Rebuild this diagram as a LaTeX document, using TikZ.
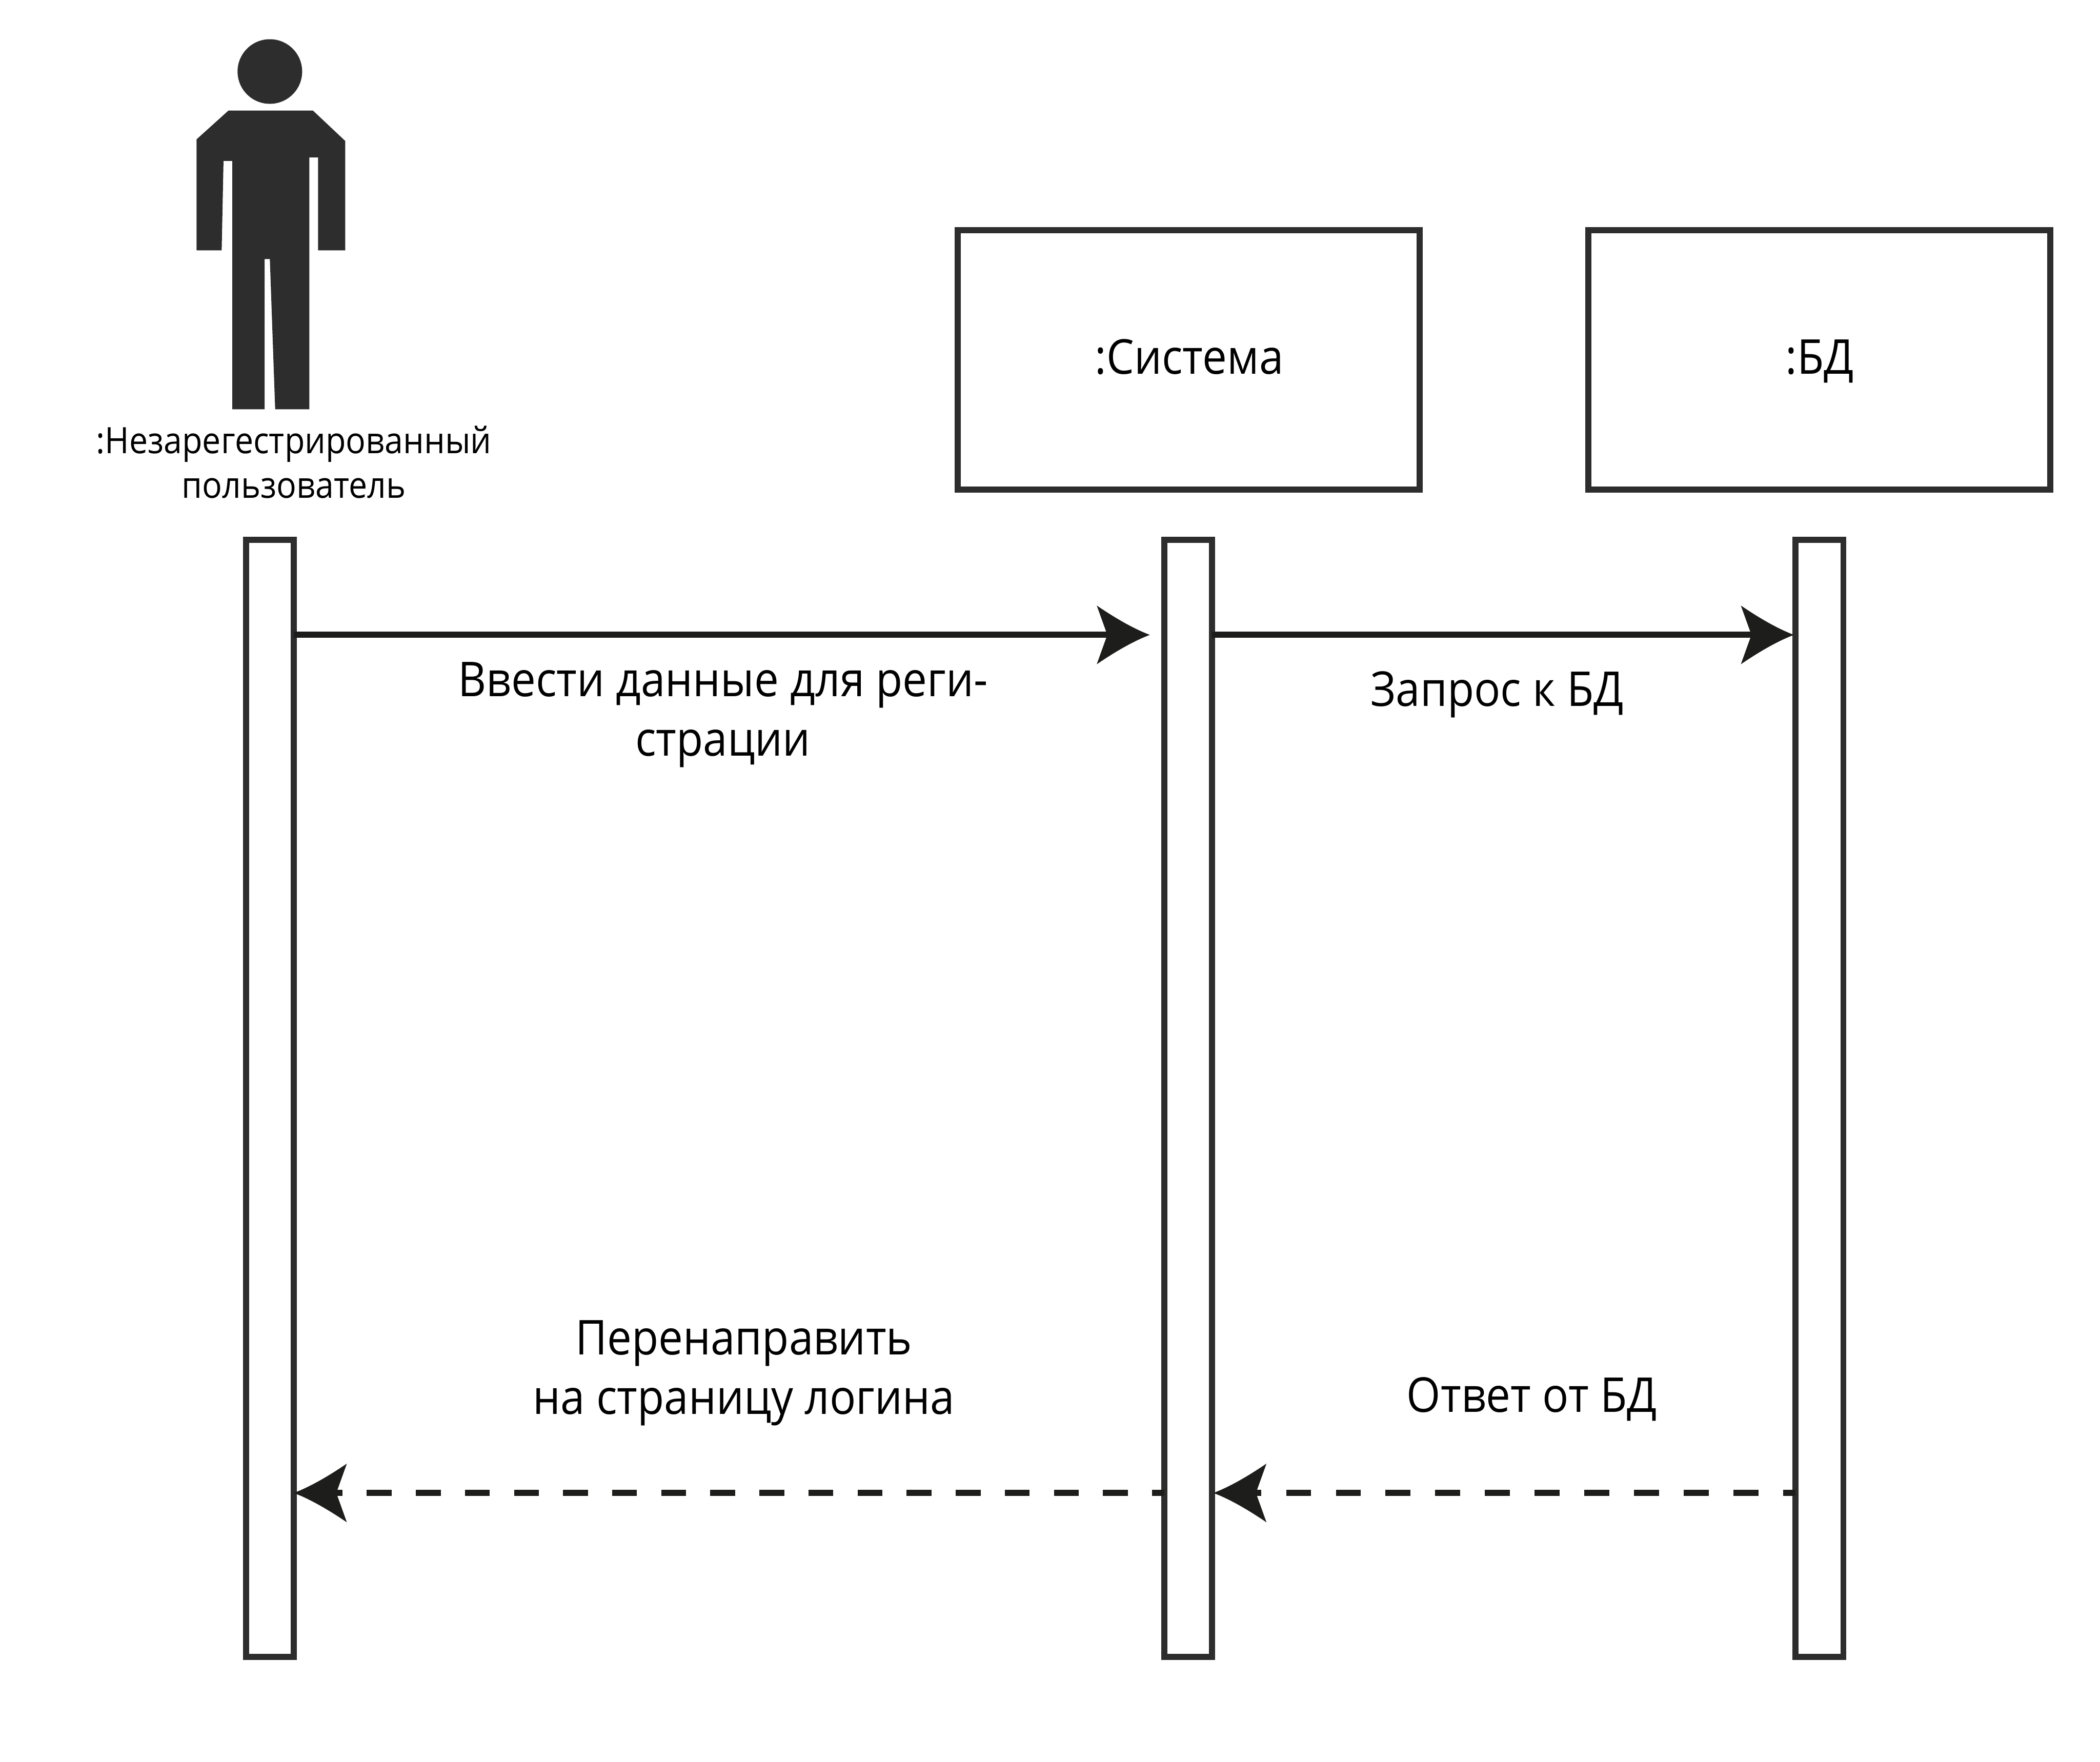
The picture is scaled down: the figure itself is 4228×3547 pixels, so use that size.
\documentclass[tikz,border=0pt]{standalone}
\usepackage{fontspec}
\setmainfont{Open Sans}[FakeStretch=0.91]
\definecolor{framecol}{HTML}{2D2D2D}
\definecolor{linecol}{HTML}{1D1D1B}
\pgfdeclarearrow{
  name=Swept,
  setup code={
    \pgfarrowssettipend{0pt}
    \pgfarrowssetlineend{-24.3pt}
    \pgfarrowssetbackend{-30.4pt}
    \pgfarrowssetvisualbackend{-24.3pt}
  },
  drawing code={
    \pgfpathmoveto{\pgfqpoint{0pt}{0pt}}
    \pgfpathquadraticcurveto{\pgfqpoint{-12.8pt}{4.84pt}}{\pgfqpoint{-30.36pt}{16.79pt}}
    \pgfpathlineto{\pgfqpoint{-24.33pt}{0pt}}
    \pgfpathlineto{\pgfqpoint{-30.36pt}{-16.79pt}}
    \pgfpathquadraticcurveto{\pgfqpoint{-12.8pt}{-4.84pt}}{\pgfqpoint{0pt}{0pt}}
    \pgfpathclose
    \pgfusepathqfill
  }
}
\tikzset{
  framebox/.style={draw=framecol,fill=white,line width=3.5pt,rectangle,inner sep=0pt,outer sep=0pt,minimum width=9.3cm,minimum height=5.225cm},
  lifebar/.style={draw=framecol,fill=white,line width=3.5pt,rectangle,inner sep=0pt,outer sep=0pt,minimum width=0.96cm,minimum height=22.48cm},
  msg/.style={draw=linecol,line width=3.5pt,-{Swept}},
  reply/.style={msg,dash pattern=on 14.23pt off 14.23pt,dash phase=7.11pt},
  replyleft/.style={msg,dash pattern=on 14.23pt off 13.87pt,dash phase=7.11pt},
  bigtext/.style={inner sep=0pt,anchor=base,align=center,text=black,font=\fontsize{27.5pt}{34.1pt}\selectfont},
  smalltext/.style={inner sep=0pt,anchor=base,align=center,text=black,font=\fontsize{20.8pt}{25.6pt}\selectfont},
}
\begin{document}
\begin{tikzpicture}[x=0.01cm,y=-0.01cm]
\useasboundingbox (0,0) rectangle (4228,3547);
\fill[white] (0,0) rectangle (4228,3547);
% actor
\node[circle,fill=framecol,inner sep=0pt,outer sep=0pt,minimum size=1.30cm] (head) at (543.3,144) {};
\fill[framecol] (460,222.6) -- (630,222.6) -- (695,283.8) -- (695,504) -- (640.3,504) -- (640.3,317) -- (622.7,317) -- (622.7,824) -- (554,824) -- (543.3,521.7) -- (532.7,521.7) -- (532.7,824) -- (467.7,824) -- (467.7,324) -- (450,324) -- (446.3,504) -- (395.7,504) -- (395.7,280.6) -- cycle;
\node[smalltext] (actor) at (591.5,1002.7) {:Незарегестрированный\\пользователь};
% boxes
\node[framebox] (sys) at (2393,724.75) {};
\node[framebox] (db) at (3663,724.75) {};
\node[bigtext] (systext) at (2394.5,752.6) {:Система};
\node[bigtext] (dbtext) at (3663.5,753) {:БД};
% activation bars
\node[lifebar] (barA) at (543.5,2211.5) {};
\node[lifebar] (barB) at (2392.5,2211.5) {};
\node[lifebar] (barC) at (3663.25,2211.5) {};
% levels
\coordinate (rowone) at (0,1278.3);
\coordinate (rowtwo) at (0,3006);
% connectors
\draw[msg,shorten >=8.4pt] (barA.east |- rowone) -- (barB.west |- rowone);
\draw[msg,shorten >=1pt] (barB.east |- rowone) -- (barC.west |- rowone);
\draw[replyleft] (barB.west |- rowtwo) -- (barA.east |- rowtwo);
\draw[reply,shorten >=0.7pt] (barC.west |- rowtwo) -- (barB.east |- rowtwo);
% labels
\node[bigtext] (l1) at (1455.5,1522) {Ввести данные для реги-\\страции};
\node[bigtext] (l2) at (3014,1422) {Запрос к БД};
\node[bigtext] (l3) at (1497.5,2847.7) {Перенаправить\\на страницу логина};
\node[bigtext] (l4) at (3084,2842.7) {Ответ от БД};
\end{tikzpicture}
\end{document}
